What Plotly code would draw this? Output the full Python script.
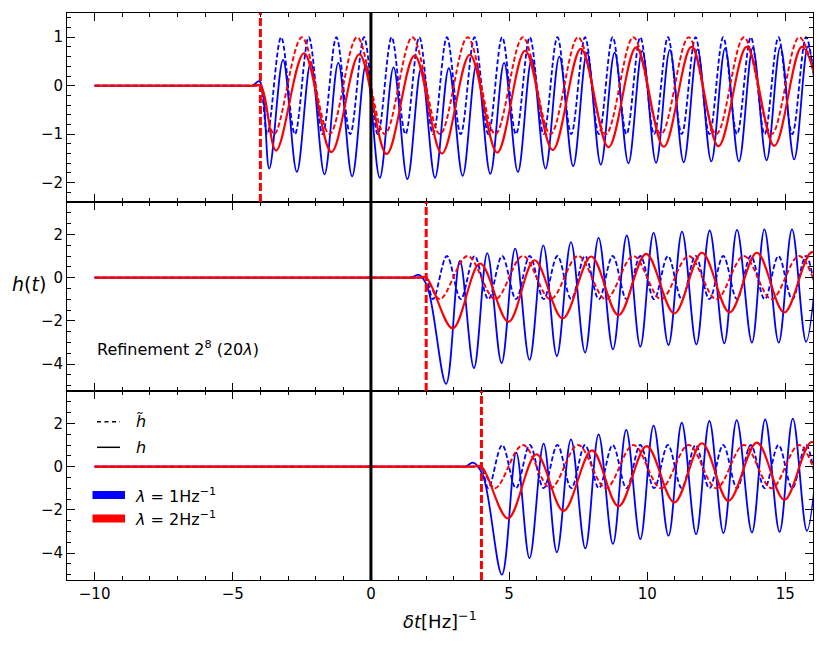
import plotly.graph_objects as go
from plotly.subplots import make_subplots

# ---------------- data ----------------
X_RANGE = [-11, 16]
X_TICKS = [-10, -5, 0, 5, 10, 15]
FLAT_START = -10
ONSETS = [-4, 2, 4]            # red dashed markers, one per panel (top, middle, bottom)

# h-tilde (dashed): extremum offsets relative to onset, and their values
TILDE_BLUE_DT = [0.25, 0.75, 1.25, 1.75, 2.25, 2.75, 3.25, 3.75, 4.25, 4.75,
                 5.25, 5.75, 6.25, 6.75, 7.25, 7.75, 8.25, 8.75, 9.25, 9.75,
                 10.25, 10.75, 11.25, 11.75, 12.25, 12.75, 13.25, 13.75, 14.25, 14.75,
                 15.25, 15.75, 16.25, 16.75, 17.25, 17.75, 18.25, 18.75, 19.25, 19.75, 20.25]
TILDE_BLUE_Y = [-1, 1, -1, 1, -1, 1, -1, 1, -1, 1,
                -1, 1, -1, 1, -1, 1, -1, 1, -1, 1,
                -1, 1, -1, 1, -1, 1, -1, 1, -1, 1,
                -1, 1, -1, 1, -1, 1, -1, 1, -1, 1, -1]
TILDE_RED_DT = [0.5, 1.5, 2.5, 3.5, 4.5, 5.5, 6.5, 7.5, 8.5, 9.5,
                10.5, 11.5, 12.5, 13.5, 14.5, 15.5, 16.5, 17.5, 18.5, 19.5, 20.5]
TILDE_RED_Y = [-1, 1, -1, 1, -1, 1, -1, 1, -1, 1,
               -1, 1, -1, 1, -1, 1, -1, 1, -1, 1, -1]

# h (solid): extrema per panel
TOP_BLUE_T = [-10, -5.0, -4.6, -4.3, -4.03,
              -3.68, -3.18, -2.68, -2.18, -1.68, -1.18, -0.68, -0.18, 0.32, 0.82,
              1.32, 1.82, 2.32, 2.82, 3.32, 3.82, 4.32, 4.82, 5.32, 5.82,
              6.32, 6.82, 7.32, 7.82, 8.32, 8.82, 9.32, 9.82, 10.32, 10.82,
              11.32, 11.82, 12.32, 12.82, 13.32, 13.82, 14.32, 14.82, 15.32, 15.82, 16.32]
TOP_BLUE_Y = [0, 0, 0, 0, 0.09,
              -1.71, 0.53, -1.78, 0.47, -1.83, 0.47, -1.87, 0.43, -1.9, 0.38,
              -1.93, 0.36, -1.9, 0.36, -1.86, 0.43, -1.82, 0.47, -1.78, 0.55,
              -1.71, 0.6, -1.66, 0.68, -1.63, 0.68, -1.6, 0.72, -1.59, 0.74,
              -1.58, 0.75, -1.56, 0.77, -1.56, 0.78, -1.54, 0.8, -1.52, 0.81, -1.52]
TOP_RED_T = [-10, -5.0, -4.6, -4.3, -4.0,
             -3.43, -2.42, -1.43, -0.42, 0.57, 1.58, 2.57, 3.58, 4.57, 5.58, 6.58,
             7.6, 8.6, 9.6, 10.6, 11.6, 12.58, 13.6, 14.6, 15.6, 16.6]
TOP_RED_Y = [0, 0, 0, 0, 0,
             -1.34, 0.67, -1.37, 0.65, -1.41, 0.62, -1.4, 0.64, -1.38, 0.72, -1.33,
             0.76, -1.27, 0.79, -1.26, 0.8, -1.25, 0.8, -1.24, 0.8, -1.24]

MID_BLUE_T = [-10, 0.9, 1.2, 1.45, 1.75, 2.05,
              2.72, 3.22, 3.73, 4.21, 4.73, 5.22, 5.74, 6.24, 6.73, 7.24,
              7.75, 8.24, 8.76, 9.26, 9.75, 10.23, 10.77, 11.26, 11.78, 12.26,
              12.79, 13.25, 13.79, 14.24, 14.76, 15.24, 15.75, 16.24]
MID_BLUE_Y = [0, 0, 0, 0, 0.12, -0.45,
              -4.92, 0.77, -4.19, 1.13, -3.96, 1.34, -3.81, 1.49, -3.63, 1.64,
              -3.47, 1.84, -3.32, 1.95, -3.2, 2.07, -3.12, 2.13, -3.09, 2.18,
              -3.04, 2.21, -3.01, 2.23, -3.01, 2.23, -2.97, 2.24]
MID_RED_T = [-10, 1.0, 1.4, 1.7, 2.0,
             2.96, 3.95, 4.98, 5.92, 6.94, 7.97, 8.96, 9.96, 10.98, 11.98,
             12.98, 13.97, 14.96, 15.97, 16.97]
MID_RED_Y = [0, 0, 0, 0, 0,
             -2.35, 0.65, -2.05, 0.8, -1.89, 0.98, -1.74, 1.1, -1.66, 1.15,
             -1.61, 1.15, -1.61, 1.18, -1.6]

BOT_BLUE_T = [-10, 2.9, 3.2, 3.42, 3.7, 4.05,
              4.74, 5.26, 5.74, 6.25, 6.73, 7.24, 7.76, 8.24, 8.76, 9.24,
              9.75, 10.23, 10.77, 11.25, 11.77, 12.25, 12.76, 13.24, 13.79, 14.27,
              14.79, 15.27, 15.78, 16.27]
BOT_BLUE_Y = [0, 0, 0, 0, 0.18, -0.4,
              -5.0, 0.65, -4.24, 1.06, -3.97, 1.26, -3.79, 1.49, -3.58, 1.7,
              -3.36, 1.9, -3.2, 2.03, -3.13, 2.11, -3.08, 2.15, -3.05, 2.18,
              -3.02, 2.22, -2.97, 2.22]
BOT_RED_T = [-10, 3.0, 3.4, 3.7, 4.0,
             4.96, 5.99, 6.97, 8.0, 8.96, 9.98, 10.98, 11.98, 12.94, 13.97,
             14.96, 15.96, 16.96]
BOT_RED_Y = [0, 0, 0, 0, 0,
             -2.4, 0.57, -2.05, 0.75, -1.84, 0.95, -1.66, 1.08, -1.59, 1.11,
             -1.54, 1.14, -1.54]

SOLID = [
    (TOP_BLUE_T, TOP_BLUE_Y, TOP_RED_T, TOP_RED_Y),
    (MID_BLUE_T, MID_BLUE_Y, MID_RED_T, MID_RED_Y),
    (BOT_BLUE_T, BOT_BLUE_Y, BOT_RED_T, BOT_RED_Y),
]
Y_RANGES = [[-2.4, 1.5], [-5.25, 3.5], [-5.25, 3.5]]
Y_DTICK = [1, 2, 2]
Y_MINOR = [0.2, 0.5, 0.5]

LEGEND_LINES = ["<i>h̃</i>", "<i>h</i>"]
LEGEND_PATCHES = ["<i>λ</i> = 1Hz<sup>−1</sup>", "<i>λ</i> = 2Hz<sup>−1</sup>"]
BLUE = "#0000ff"
RED = "#ff0000"
FONT = "DejaVu Sans"

# ---------------- figure ----------------
fig = make_subplots(rows=3, cols=1, shared_xaxes=True, vertical_spacing=0)


def tilde(t0, dts, ys):
    xs = [FLAT_START, t0 - 1.0, t0 - 0.6, t0 - 0.3, t0 - 0.08, t0] + [t0 + d for d in dts]
    vs = [0, 0, 0, 0, 0, 0] + list(ys)
    return xs, vs


for i, t0 in enumerate(ONSETS):
    row = i + 1
    bt, by = tilde(t0, TILDE_BLUE_DT, TILDE_BLUE_Y)
    rt, ry = tilde(t0, TILDE_RED_DT, TILDE_RED_Y)
    sbt, sby, srt, sry = SOLID[i]
    fig.add_trace(go.Scatter(x=bt, y=by, mode="lines",
                             line=dict(color=BLUE, width=1.8, dash="5px,2.5px", shape="spline", smoothing=1),
                             showlegend=False), row=row, col=1)
    fig.add_trace(go.Scatter(x=sbt, y=sby, mode="lines",
                             line=dict(color=BLUE, width=1.8, shape="spline", smoothing=1),
                             showlegend=False), row=row, col=1)
    fig.add_trace(go.Scatter(x=rt, y=ry, mode="lines",
                             line=dict(color=RED, width=1.9, dash="5px,2.5px", shape="spline", smoothing=1),
                             showlegend=False), row=row, col=1)
    fig.add_trace(go.Scatter(x=srt, y=sry, mode="lines",
                             line=dict(color=RED, width=2.1, shape="spline", smoothing=1),
                             showlegend=False), row=row, col=1)
    yname = "y" if row == 1 else f"y{row}"
    xname = "x" if row == 1 else f"x{row}"
    fig.add_shape(type="line", xref=xname, yref=f"{yname} domain", x0=t0, x1=t0, y0=0, y1=1,
                  line=dict(color=RED, width=3, dash="8px,3px"))
    fig.add_shape(type="line", xref=xname, yref=f"{yname} domain", x0=0, x1=0, y0=0, y1=1,
                  line=dict(color="black", width=3))

    fig.update_yaxes(range=Y_RANGES[i], dtick=Y_DTICK[i], row=row, col=1,
                     minor=dict(ticks="inside", dtick=Y_MINOR[i], ticklen=4, tickcolor="black", showgrid=False))

fig.update_xaxes(range=X_RANGE, tickvals=X_TICKS, showline=True, linecolor="black", linewidth=1,
                 mirror="allticks", ticks="inside", ticklen=8, tickcolor="black", showgrid=False,
                 zeroline=False, minor=dict(ticks="inside", dtick=1, ticklen=4, tickcolor="black", showgrid=False),
                 tickfont=dict(family=FONT, size=15, color="black"))
fig.update_yaxes(showline=True, linecolor="black", linewidth=1, mirror="allticks", ticks="inside",
                 ticklen=8, tickcolor="black", showgrid=False, zeroline=False,
                 tickfont=dict(family=FONT, size=15, color="black"))

# the page adds an 8px body margin, so the figure is shrunk by that amount
PAGE_OFF = 8
W, H = 822, 645
ML, MR, MT, MB = 59, 17, 5, 73
PW, PH = W - ML - MR, H - MT - MB


def px(sx):
    return (sx - PAGE_OFF - ML) / PW


def py(sy):
    return (H - MB - (sy - PAGE_OFF)) / PH


ann = []
ann.append(dict(text="<i>h</i>(<i>t</i>)", x=px(29), y=py(284), xref="paper", yref="paper",
                xanchor="center", yanchor="middle",
                showarrow=False, font=dict(family=FONT, size=19, color="black")))
ann.append(dict(text="<i>δt</i>[Hz]<sup>−1</sup>", x=px(440), y=py(620), xref="paper", yref="paper",
                xanchor="center", yanchor="middle",
                showarrow=False, font=dict(family=FONT, size=18, color="black")))
ann.append(dict(text="Refinement 2<sup>8</sup> (20<i>λ</i>)", x=px(95), y=py(348), xref="paper", yref="paper",
                xanchor="left", yanchor="middle", showarrow=False, font=dict(family=FONT, size=16, color="black")))

# legend (drawn manually)
line_y = [421.7, 447.3]
dashes = ["4px,3.5px", "solid"]
for txt, ly, dsh in zip(LEGEND_LINES, line_y, dashes):
    fig.add_shape(type="line", xref="paper", yref="paper", x0=px(97), x1=px(120), y0=py(ly), y1=py(ly),
                  line=dict(color="black", width=1.5, dash=dsh))
    ann.append(dict(text=txt, x=px(134), y=py(ly), xref="paper", yref="paper", xanchor="left",
                    yanchor="middle", showarrow=False, font=dict(family=FONT, size=16, color="black")))
patch_y = [495, 518.5]
for txt, ly, col in zip(LEGEND_PATCHES, patch_y, [BLUE, RED]):
    fig.add_shape(type="rect", xref="paper", yref="paper", x0=px(92.5), x1=px(125), y0=py(ly - 4),
                  y1=py(ly + 4), fillcolor=col, line=dict(width=0))
    ann.append(dict(text=txt, x=px(133), y=py(ly), xref="paper", yref="paper", xanchor="left",
                    yanchor="middle", showarrow=False, font=dict(family=FONT, size=16, color="black")))

fig.update_layout(width=W, height=H, margin=dict(l=ML, r=MR, t=MT, b=MB),
                  plot_bgcolor="white", paper_bgcolor="white", showlegend=False,
                  annotations=ann, font=dict(family=FONT))

fig.write_html("out.html")
